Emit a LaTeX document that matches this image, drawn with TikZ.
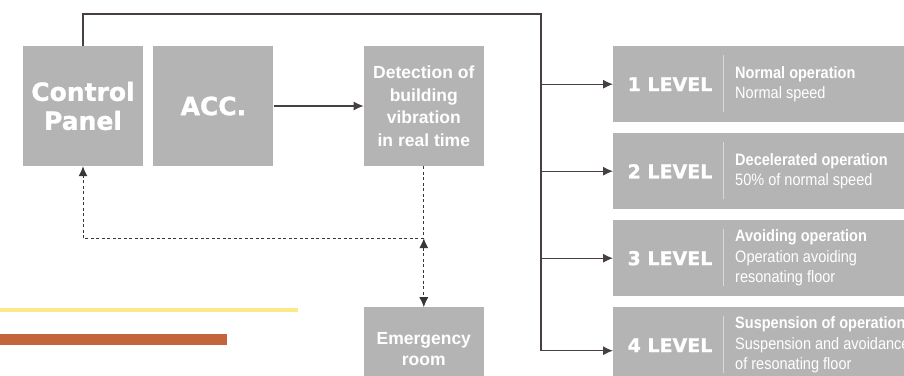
\documentclass[tikz,border=0pt]{standalone}
\usepackage{fontspec}
\setmainfont{Liberation Sans}
\newfontfamily\heavyfont[FakeBold=1.2]{DejaVu Sans}
\newfontfamily\condfont[FakeStretch=0.88]{Liberation Sans}
\definecolor{boxGray}{RGB}{180,180,180}
\definecolor{sepGray}{RGB}{218,218,218}
\definecolor{linkGray}{RGB}{70,64,64}
\definecolor{dashGray}{RGB}{55,55,55}
\definecolor{barYellow}{RGB}{253,233,140}
\definecolor{barOrange}{RGB}{196,100,58}
\usetikzlibrary{positioning, arrows.meta}

\begin{document}
\begin{tikzpicture}[
    x=1pt, y=-1pt,
    box/.style={rectangle, fill=boxGray, minimum width=120pt, minimum height=120pt,
                inner sep=0pt, align=center, text=white},
    bigbox/.style={box, font=\heavyfont\bfseries\fontsize{25}{29}\selectfont},
    txtbox/.style={box, font=\bfseries\fontsize{17.5}{22.5}\selectfont},
    lvlbox/.style={rectangle, fill=boxGray, minimum width=300pt, minimum height=76pt,
                   inner sep=0pt, anchor=north west},
    lvltag/.style={text=white, inner sep=0pt,
                   font=\heavyfont\bfseries\fontsize{19}{22}\selectfont},
    lvltext/.style={text=white, inner sep=0pt, anchor=west, align=left,
                    font=\condfont\fontsize{16.5}{20.5}\selectfont},
    lvlsep/.style={draw=sepGray, line width=1pt},
    tip/.style={-{Latex[length=10pt, width=9pt]}},
    link/.style={draw=linkGray, line width=1.1pt},
    arrow/.style={link, tip},
    dline/.style={draw=dashGray, line width=1pt, dash pattern=on 3pt off 2.5pt},
  ]
    \useasboundingbox (0,0) rectangle (904,375);

    % Left: sensing blocks
    \node[bigbox] (CP) at (83,106) {Control\\Panel};
    \node[bigbox, right=10pt of CP] (ACC) {ACC.};
    \node[txtbox, right=90pt of ACC] (Detect) {Detection of\\building\\vibration\\in real time};
    \node[txtbox, minimum height=84pt, font=\bfseries\fontsize{17.5}{21}\selectfont,
          below=141pt of Detect] (ER) {Emergency\\room};
    \draw[arrow] (ACC) -- (Detect);

    % Dashed feedback
    \coordinate[below=72pt of Detect.south] (junc);
    \draw[dline] (Detect.south) -- (junc);
    \draw[dline, tip] (junc) -| (CP.south);
    \draw[dline, {Latex[length=10pt, width=9pt]}-{Latex[length=10pt, width=9pt]}] (junc) -- (ER.north);

    % Right: levels
    \coordinate (trunktop) at (541,14);
    \foreach \n/\ttl/\desc/\dy in {
      1/{Normal operation}/{Normal speed}/0pt,
      2/{Decelerated operation}/{50\% of normal speed}/0pt,
      3/{Avoiding operation}/{Operation avoiding\\resonating floor}/0pt,
      4/{Suspension of operation}/{Suspension and avoidance\\of resonating floor}/-5.5pt}
    {
      \node[lvlbox] (L\n) at (613, {46+(\n-1)*87}) {};
      \node[lvltag] (T\n) at ([xshift=57pt]L\n.west) {\n\ LEVEL};
      \draw[lvlsep] ([xshift=110pt, yshift=-9pt]L\n.north west) -- ([xshift=110pt, yshift=10pt]L\n.south west);
      \node[lvltext] (D\n) at ([xshift=122pt]L\n.west) {\textbf{\ttl}\\\desc};
      \coordinate (A\n) at ([yshift=\dy]L\n.west);
      \draw[arrow] (A\n -| trunktop) -- (A\n);
    }
    \draw[link] (CP.north) |- (trunktop) -- (A4 -| trunktop);

    % Colour bars
    \fill[barYellow] (0,308) rectangle (298,312);
    \fill[barOrange] (0,334) rectangle (227,345);
  \end{tikzpicture}
\end{document}
